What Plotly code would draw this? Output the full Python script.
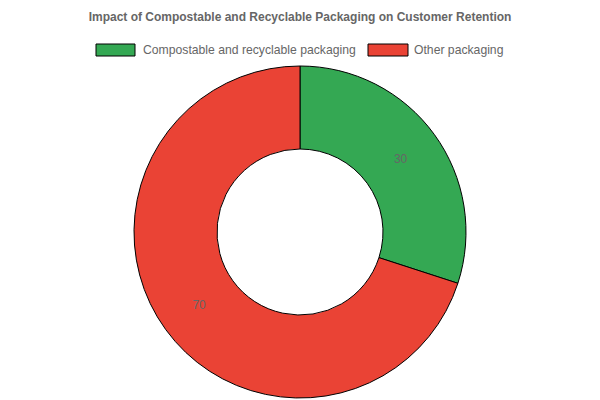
import plotly.graph_objects as go

categories = ["Compostable and recyclable packaging", "Other packaging"]
values = [30, 70]
colors = ["#34A853", "#EA4335"]
title_text = "Impact of Compostable and Recyclable Packaging on Customer Retention"

W, H = 600, 400
ML, MR, MT, MB = 0, 0, 66, 2
PW, PH = W - ML - MR, H - MT - MB

def px_x(x):
    return (x - ML) / PW

def px_y(y):
    return (H - MB - y) / PH

fig = go.Figure(go.Pie(
    labels=categories,
    values=values,
    hole=0.5,
    sort=False,
    direction="clockwise",
    rotation=0,
    marker=dict(colors=colors, line=dict(color="#000000", width=1)),
    textinfo="value",
    textposition="inside",
    insidetextorientation="horizontal",
    textfont=dict(color="#666666", size=12, family="Liberation Sans, Arial, sans-serif"),
    showlegend=False,
    hoverinfo="label+value",
))

# Manual legend (wide swatches like the reference)
legend_items = [
    (96, 135, 141),
    (368, 408, 412),
]
shapes = []
annotations = []
for (x0, x1, tx), cat, col in zip(legend_items, categories, colors):
    shapes.append(dict(type="rect", xref="paper", yref="paper",
                       x0=px_x(x0), x1=px_x(x1), y0=px_y(56), y1=px_y(44),
                       fillcolor=col, line=dict(color="#000000", width=1)))
    annotations.append(dict(x=px_x(tx), y=px_y(50), xref="paper", yref="paper",
                            text=cat, showarrow=False, xanchor="left", yanchor="middle",
                            font=dict(size=12.2, color="#666666",
                                      family="Liberation Sans, Arial, sans-serif")))

fig.update_layout(
    width=W, height=H,
    margin=dict(l=ML, r=MR, t=MT, b=MB),
    paper_bgcolor="white",
    plot_bgcolor="white",
    title=dict(text="<b>" + title_text + "</b>", x=0.5, xanchor="center",
               y=1 - 17 / H, yanchor="middle",
               font=dict(size=12, color="#666666",
                         family="Liberation Sans, Arial, sans-serif")),
    shapes=shapes,
    annotations=annotations,
)

fig.write_html("out.html")
